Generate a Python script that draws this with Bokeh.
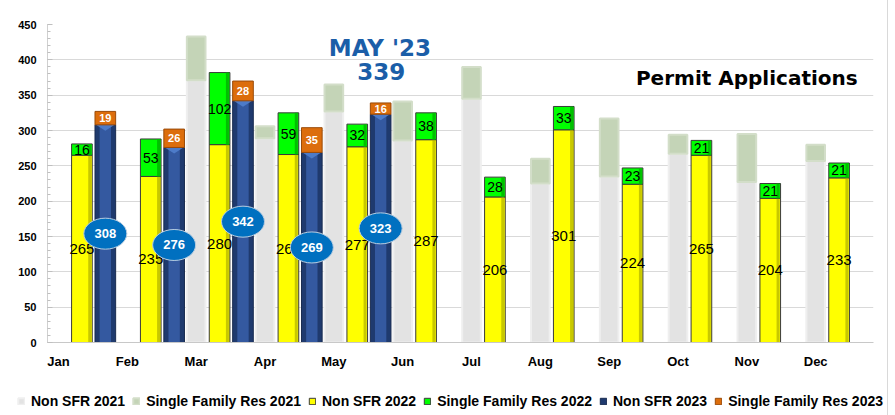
from bokeh.plotting import figure
from bokeh.layouts import column
from bokeh.models import Range1d, FixedTicker, Legend, LegendItem, ColumnDataSource
from bokeh.core.properties import value
from bokeh.embed import file_html
from bokeh.resources import INLINE
import numpy as np

# ---------------- data ----------------
months = ["Jan", "Feb", "Mar", "Apr", "May", "Jun", "Jul", "Aug", "Sep", "Oct", "Nov", "Dec"]
non_sfr_2021 = [None, None, 371, 289, 327, 286, 345, 225, 235, 267, 227, 257]
sfr_2021 = [None, None, 62, 17, 38, 55, 45, 35, 82, 27, 68, 23]
non_sfr_2022 = [265, 235, 280, 266, 277, 287, 206, 301, 224, 265, 204, 233]
sfr_2022 = [16, 53, 102, 59, 32, 38, 28, 33, 23, 21, 21, 21]
non_sfr_2023 = [308, 276, 342, 269, 323]
sfr_2023 = [19, 26, 28, 35, 16]
y_ticks = [0, 50, 100, 150, 200, 250, 300, 350, 400, 450]
series_names = ["Non SFR 2021", "Single Family Res 2021", "Non SFR 2022",
                "Single Family Res 2022", "Non SFR 2023", "Single Family Res 2023"]
callout_month = "MAY '23"
chart_label = "Permit Applications"

FONT = "Liberation Sans"

# ---------------- styles ----------------
STY = {
    "Non SFR 2021": dict(fill_color="#e3e3e3", line_color="#efefef", line_width=2),
    "Single Family Res 2021": dict(fill_color="#c4d4b7", line_color="#d3dec9", line_width=2),
    "Non SFR 2022": dict(fill_color="#ffff00", line_color="#3a3a3a", line_width=1),
    "Single Family Res 2022": dict(fill_color="#00ff00", line_color="#3a3a3a", line_width=1),
    "Non SFR 2023": dict(fill_color="#1f3a6e", line_color="#1a2c50", line_width=1),
    "Single Family Res 2023": dict(fill_color="#dc6d0c", line_color="#9a4a08", line_width=1),
}

slot = 0.34          # distance between the three year slots
bw = 0.30            # bar width (data units)
px = 1 / 68.83       # one screen pixel in x data units
py = 450 / 318       # one screen pixel in y data units

idx = np.arange(len(months))

# 2021
m21 = [i for i in idx if non_sfr_2021[i] is not None]
x21 = [float(i) for i in m21]
n21 = [non_sfr_2021[i] for i in m21]
s21 = [sfr_2021[i] for i in m21]
src21 = ColumnDataSource(dict(x=x21, b0=[0] * len(n21), t0=n21,
                              t1=[a + b for a, b in zip(n21, s21)]))

# 2022
x22 = [float(i) + slot for i in idx]
t22 = [a + b for a, b in zip(non_sfr_2022, sfr_2022)]
src22 = ColumnDataSource(dict(x=x22, b0=[0] * 12, t0=non_sfr_2022, t1=t22,
                              ymid0=[v / 2 for v in non_sfr_2022],
                              ymid1=[a + b / 2 for a, b in zip(non_sfr_2022, sfr_2022)],
                              lab0=[str(v) for v in non_sfr_2022],
                              lab1=[str(v) for v in sfr_2022],
                              xs=[x + bw / 2 - 2.5 * px for x in x22]))

# 2023
n23 = len(non_sfr_2023)
x23 = [float(i) + 2 * slot for i in range(n23)]
t23 = [a + b for a, b in zip(non_sfr_2023, sfr_2023)]
src23 = ColumnDataSource(dict(x=x23, b0=[0] * n23, t0=non_sfr_2023, t1=t23,
                              ymid0=[v / 2 for v in non_sfr_2023],
                              ymid1=[a + b / 2 for a, b in zip(non_sfr_2023, sfr_2023)],
                              lab0=[str(v) for v in non_sfr_2023],
                              lab1=[str(v) for v in sfr_2023]))
chev_xs = [[x - bw / 2 + px, x + bw / 2 - px, x] for x in x23]
chev_ys = [[t, t, t - 6 * py] for t in non_sfr_2023]

# ---------------- main figure ----------------
p = figure(frame_width=826, frame_height=318,
           min_border_left=47, min_border_right=14, min_border_top=24, min_border_bottom=43,
           x_range=Range1d(-0.16, 11.84), y_range=Range1d(0, 450),
           output_backend="svg", toolbar_location=None, tools="")
p.outline_line_color = None
p.background_fill_color = "white"
p.border_fill_color = "white"

p.xgrid.grid_line_color = None
p.ygrid.grid_line_color = "#d9d9d9"
p.ygrid.grid_line_width = 1

p.yaxis.ticker = FixedTicker(ticks=y_ticks, minor_ticks=list(range(0, 451, 10)))
p.yaxis.axis_line_color = "#d0d0d0"
p.yaxis.major_tick_line_color = "#bfbfbf"
p.yaxis.major_tick_in = 5
p.yaxis.major_tick_out = 0
p.yaxis.minor_tick_line_color = "#bfbfbf"
p.yaxis.minor_tick_in = 3
p.yaxis.minor_tick_out = 0
p.yaxis.major_label_text_font = FONT
p.yaxis.major_label_text_font_size = "11px"
p.yaxis.major_label_text_font_style = "bold"
p.yaxis.major_label_text_color = "black"
p.yaxis.major_label_standoff = 11

p.xaxis.ticker = FixedTicker(ticks=list(range(12)))
p.xaxis.major_label_overrides = {i: m for i, m in enumerate(months)}
p.xaxis.axis_line_color = "#c8c8c8"
p.xaxis.major_tick_line_color = None
p.xaxis.minor_tick_line_color = None
p.xaxis.major_label_text_font = FONT
p.xaxis.major_label_text_font_size = "13px"
p.xaxis.major_label_text_font_style = "bold"
p.xaxis.major_label_text_color = "black"
p.xaxis.major_label_standoff = 5

# 2021 bars (soft, un-labelled)
p.vbar(x="x", bottom="b0", top="t0", width=bw - 2 * px, source=src21, **STY[series_names[0]])
p.vbar(x="x", bottom="t0", top="t1", width=bw - 2 * px, source=src21, **STY[series_names[1]])

# 2022 bars
p.vbar(x="x", bottom="b0", top="t0", width=bw, source=src22, **STY[series_names[2]])
p.vbar(x="xs", bottom="b0", top="t0", width=3 * px, source=src22,
       fill_color="#c8c800", line_color=None)
p.vbar(x="x", bottom="t0", top="t1", width=bw, source=src22, **STY[series_names[3]])
p.vbar(x="xs", bottom="t0", top="t1", width=3 * px, source=src22,
       fill_color="#00c000", line_color=None)

# 2023 bars
p.vbar(x="x", bottom="b0", top="t0", width=bw, source=src23, **STY[series_names[4]])
p.vbar(x="x", bottom="b0", top="t0", width=bw * 0.55, source=src23,
       fill_color="#3459a0", line_color=None)
p.patches(xs=chev_xs, ys=chev_ys, fill_color="#4d7bc8", line_color=None)
p.vbar(x="x", bottom="t0", top="t1", width=bw, source=src23, **STY[series_names[5]])

# value labels
p.text(x="x", y="ymid0", text="lab0", source=src22, text_align="center",
       text_baseline="middle", text_font=value(FONT), text_font_size="15px",
       text_color="black")
p.text(x="x", y="ymid1", text="lab1", source=src22, text_align="center",
       text_baseline="middle", text_font=value(FONT), text_font_size="14px",
       text_color="black")
p.ellipse(x="x", y="ymid0", width=43, height=31, width_units="screen",
          height_units="screen", source=src23, fill_color="#0070c0",
          line_color="#b8cde0", line_width=1)
p.text(x="x", y="ymid0", text="lab0", source=src23, text_align="center",
       text_baseline="middle", text_font=value(FONT), text_font_size="13px",
       text_font_style="bold", text_color="white")
p.text(x="x", y="ymid1", text="lab1", source=src23, text_align="center",
       text_baseline="middle", text_font=value(FONT), text_font_size="11px",
       text_font_style="bold", text_color="white")

# callout texts
may_total = str(non_sfr_2023[4] + sfr_2023[4])
p.text(x=[4.67], y=[417], text=[callout_month], text_align="center",
       text_baseline="alphabetic", text_font=value("DejaVu Sans"),
       text_font_size="23px", text_font_style="bold", text_color="#1b5ea8")
p.text(x=[4.69], y=[384], text=[may_total], text_align="center",
       text_baseline="alphabetic", text_font=value("DejaVu Sans"),
       text_font_size="23px", text_font_style="bold", text_color="#1b5ea8")
p.text(x=[10.0], y=[375], text=[chart_label], text_align="center",
       text_baseline="alphabetic", text_font=value("DejaVu Sans"),
       text_font_size="20px", text_font_style="bold", text_color="black")

# ---------------- legend strip (separate small figure) ----------------
lg = figure(frame_width=887, frame_height=30, min_border=0,
            x_range=Range1d(0, 1), y_range=Range1d(0, 1),
            x_axis_location=None, y_axis_location=None,
            output_backend="svg", toolbar_location=None, tools="")
lg.outline_line_color = None
lg.xgrid.visible = False
lg.ygrid.visible = False
lg.border_fill_color = "white"
items = []
for name in series_names:
    # one off-screen swatch bar per series, only used to draw the legend key
    r = lg.vbar(x=[5.0], bottom=[0.0], top=[1.0], width=0.1, **STY[name])
    items.append(LegendItem(label=name, renderers=[r]))
legend = Legend(items=items, orientation="horizontal", location=(17, 6))
legend.glyph_width = 8
legend.glyph_height = 8
legend.label_standoff = 6
legend.spacing = 7
legend.padding = 0
legend.margin = 0
legend.border_line_color = None
legend.background_fill_alpha = 0
legend.label_text_font = FONT
legend.label_text_font_size = "14px"
legend.label_text_font_style = "bold"
legend.label_text_color = "black"
legend.label_height = 16
lg.add_layout(legend, "center")

layout = column(p, lg, spacing=0)
layout.styles = {"outline": "1px solid #d9d9d9"}

open("out.html", "w").write(file_html(layout, INLINE))
